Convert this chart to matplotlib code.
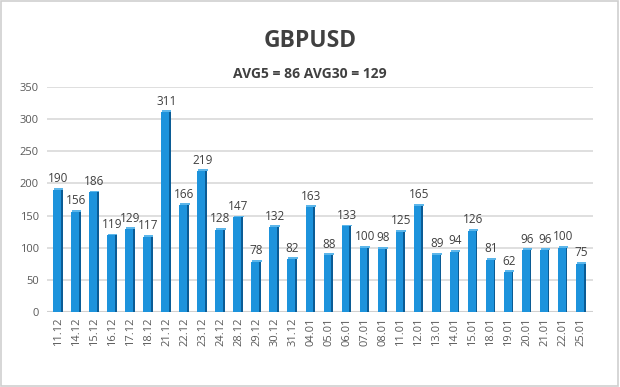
import matplotlib
matplotlib.use('Agg')
import matplotlib.pyplot as plt
from matplotlib.patches import Rectangle
import numpy as np

plt.rcParams['font.family'] = ['Open Sans', 'DejaVu Sans']

# data
dates = ['11.12', '14.12', '15.12', '16.12', '17.12', '18.12', '21.12', '22.12', '23.12', '24.12',
         '28.12', '29.12', '30.12', '31.12', '04.01', '05.01', '06.01', '07.01', '08.01', '11.01',
         '12.01', '13.01', '14.01', '15.01', '18.01', '19.01', '20.01', '21.01', '22.01', '25.01']
values = [190, 156, 186, 119, 129, 117, 311, 166, 219, 128,
          147, 78, 132, 82, 163, 88, 133, 100, 98, 125,
          165, 89, 94, 126, 81, 62, 96, 96, 100, 75]
yticks = [0, 50, 100, 150, 200, 250, 300, 350]
title = 'GBPUSD'
subtitle = 'AVG5 = 86 AVG30 = 129'

fig = plt.figure(figsize=(6.2, 3.87), dpi=100)
fig.patches.append(Rectangle((0.002, 0.003), 0.995, 0.994, transform=fig.transFigure,
                             fill=False, edgecolor='#cfcfcf', linewidth=1.2))

ax = fig.add_axes([0.076, 0.194, 0.88, 0.581])
x = np.arange(len(values))

# front face, side face, top
ax.bar(x - 0.06, values, width=0.45, color='#1d93dc', zorder=3)
ax.bar(x + 0.2, values, width=0.1, color='#0b5c95', zorder=3)
ax.bar(x + 0.02, [3] * len(values), bottom=values, width=0.52, color='#5cb6ea', zorder=3)

for xi, v in zip(x, values):
    ax.text(xi, v + 7, str(v), ha='center', va='bottom', fontsize=8.5, color='#404040')

ax.set_xlim(-0.62, 29.65)
ax.set_ylim(0, 350)
ax.set_yticks(yticks)
ax.set_yticklabels([str(t) for t in yticks], fontsize=8, color='#595959')
ax.set_xticks(x)
ax.set_xticklabels(dates, rotation=90, fontsize=8, color='#595959')
ax.tick_params(length=0, pad=6)
ax.tick_params(axis='x', pad=4)
ax.grid(axis='y', color='#d9d9d9', linewidth=1.2, zorder=0)
for s in ax.spines.values():
    s.set_visible(False)
ax.axhline(0, color='#d0d0d0', linewidth=1.5, zorder=2)

fig.text(0.5, 0.893, title, ha='center', va='center', fontsize=16.5, fontweight='bold', color='#404040')
fig.text(0.5, 0.81, subtitle, ha='center', va='center', fontsize=10, fontweight='bold', color='#404040')

fig.savefig('out.png', dpi=100)
